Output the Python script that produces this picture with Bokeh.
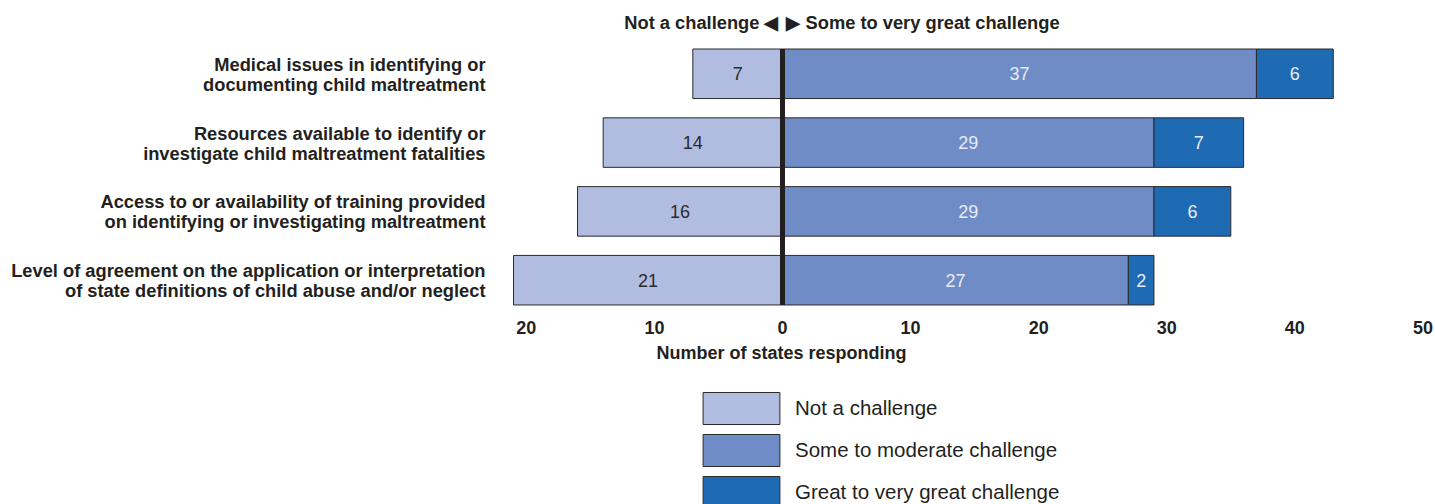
import numpy as np
from bokeh.plotting import figure
from bokeh.models import ColumnDataSource, Range1d, FixedTicker, Legend, LegendItem, Title
from bokeh.layouts import column
from bokeh.core.properties import value
from bokeh.embed import file_html
from bokeh.resources import INLINE

# ---------------- data ----------------
categories = [
    "Medical issues in identifying or\ndocumenting child maltreatment",
    "Resources available to identify or\ninvestigate child maltreatment fatalities",
    "Access to or availability of training provided\non identifying or investigating maltreatment",
    "Level of agreement on the application or interpretation\nof state definitions of child abuse and/or neglect",
]
not_challenge = [7, 14, 16, 21]
some_moderate = [37, 29, 29, 27]
great_challenge = [6, 7, 6, 2]
series_names = ["Not a challenge", "Some to moderate challenge", "Great to very great challenge"]
tick_values = [-20, -10, 0, 10, 20, 30, 40, 50]
axis_title = "Number of states responding"
header_left = "Not a challenge \u25C0"
header_right = "\u25B6 Some to very great challenge"

# ---------------- styles ----------------
FONT = "Liberation Sans"
C_LIGHT = "#B1BDE0"
C_MID = "#6F8CC6"
C_DARK = "#1E6AB3"
colors = [C_LIGHT, C_MID, C_DARK]
EDGE = "#2b2b2b"
TXT = "#231F20"

n = len(categories)
ypos = np.arange(n)[::-1].astype(float)  # top category at the top
nc = -np.array(not_challenge, dtype=float)
sm = np.array(some_moderate, dtype=float)
gc = sm + np.array(great_challenge, dtype=float)
BAR_H = 0.72

W = 1435
H_TOP = 380
H_BOT = 504 - H_TOP
x_start, x_end = -61.05, 50.98
y_start, y_end = -0.4695, 4.065

p = figure(width=W, height=H_TOP, output_backend="svg", toolbar_location=None,
           x_range=Range1d(x_start, x_end), y_range=Range1d(y_start, y_end),
           min_border_left=0, min_border_right=0, min_border_top=0, min_border_bottom=68)
p.outline_line_color = None
p.grid.visible = False
p.yaxis.visible = False

src = ColumnDataSource(dict(y=ypos, nc=nc, zero=np.zeros(n), sm=sm, gc=gc))
p.hbar(y="y", left="nc", right="zero", height=BAR_H, source=src,
       fill_color=C_LIGHT, line_color=EDGE, line_width=1)
p.hbar(y="y", left="zero", right="sm", height=BAR_H, source=src,
       fill_color=C_MID, line_color=EDGE, line_width=1)
p.hbar(y="y", left="sm", right="gc", height=BAR_H, source=src,
       fill_color=C_DARK, line_color=EDGE, line_width=1)

# zero line
p.segment(x0=[0], x1=[0], y0=[ypos.max() + BAR_H / 2], y1=[ypos.min() - BAR_H / 2],
          line_color=TXT, line_width=5)

# value labels
p.text(x=nc / 2, y=ypos, text=[str(v) for v in not_challenge], text_align="center",
       text_baseline="middle", text_font=value(FONT), text_font_size="18px", text_color="#2a2a2a")
p.text(x=sm / 2, y=ypos, text=[str(v) for v in some_moderate], text_align="center",
       text_baseline="middle", text_font=value(FONT), text_font_size="18px", text_color="#E8ECF5")
p.text(x=(sm + gc) / 2, y=ypos, text=[str(v) for v in great_challenge], text_align="center",
       text_baseline="middle", text_font=value(FONT), text_font_size="18px", text_color="#E8ECF5")

# category labels
p.text(x=[x_start] * n, y=ypos, text=categories, x_offset=485, y_offset=0.5, text_align="right",
       text_baseline="middle", text_font=value(FONT), text_font_size="18.3px",
       text_font_style="bold", text_color=TXT, text_line_height=0.95)

# header
p.text(x=[0], y=[y_end], text=[header_left], x_offset=-4, y_offset=22, text_align="right",
       text_baseline="middle", text_font=value(FONT), text_font_size="18.3px",
       text_font_style="bold", text_color=TXT)
p.text(x=[0], y=[y_end], text=[header_right], x_offset=4, y_offset=22, text_align="left",
       text_baseline="middle", text_font=value(FONT), text_font_size="18.3px",
       text_font_style="bold", text_color=TXT)

# x axis
xa = p.xaxis[0]
xa.ticker = FixedTicker(ticks=tick_values)
xa.major_label_overrides = {t: str(abs(t)) for t in tick_values}
xa.axis_line_color = None
xa.major_tick_line_color = None
xa.minor_tick_line_color = None
xa.major_tick_out = 0
xa.major_tick_in = 0
xa.major_label_standoff = 8
xa.major_label_text_font = FONT
xa.major_label_text_font_size = "18px"
xa.major_label_text_font_style = "bold"
xa.major_label_text_color = TXT

# axis title, placed under the zero line
x_title = Title(text=axis_title, align="left", offset=656, standoff=8,
                text_font=FONT, text_font_size="18px", text_font_style="bold",
                text_color=TXT)
p.add_layout(x_title, "below")

# legend panel
q = figure(width=W, height=H_BOT, output_backend="svg", toolbar_location=None,
           x_range=Range1d(0, 1), y_range=Range1d(0, 1),
           min_border_left=0, min_border_right=0, min_border_top=0, min_border_bottom=0)
q.outline_line_color = None
q.grid.visible = False
q.axis.visible = False
items = []
for name, col in zip(series_names, colors):
    # one off-screen bar per series, only so that the legend can draw its swatch
    r = q.hbar(y=[-5], left=[0], right=[1], height=0.5, fill_color=col, line_color=EDGE, line_width=1)
    items.append(LegendItem(label=name, renderers=[r]))
legend = Legend(items=items, location=(693, -8), orientation="vertical",
                glyph_width=96, glyph_height=40, label_height=40, spacing=2,
                label_standoff=6, padding=0, margin=0,
                border_line_color=None, background_fill_alpha=0,
                label_text_font=FONT, label_text_font_size="20.5px", label_text_color=TXT)
q.add_layout(legend, "center")

layout = column(p, q, spacing=0)
open("out.html", "w").write(file_html(layout, INLINE))
